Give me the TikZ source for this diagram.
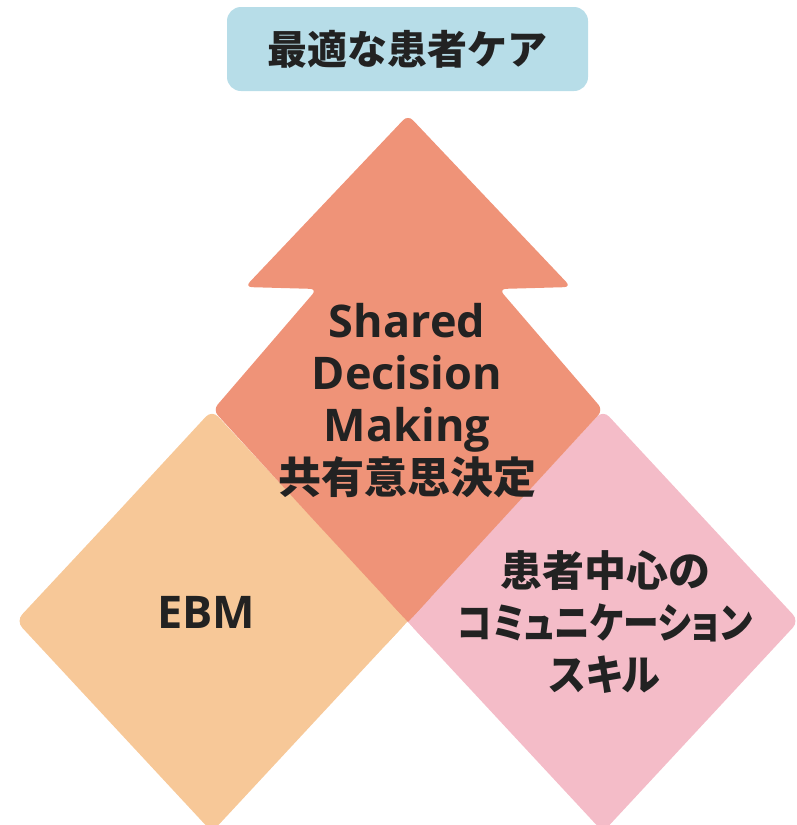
\documentclass[tikz,border=0pt]{standalone}
\usepackage{graphicx}
\usepackage{fontspec}
\setmainfont{Open Sans}
\newfontfamily\jp{Noto Sans CJK JP}
\newfontfamily\jpp[RawFeature=+palt]{Noto Sans CJK JP}
\definecolor{boxblue}{HTML}{B7DDE8}
\definecolor{salmon}{HTML}{EF9378}
\definecolor{peach}{HTML}{F7C898}
\definecolor{rosy}{HTML}{F4BCC8}
\definecolor{ink}{HTML}{222222}
\tikzset{
  titlebox/.style={fill=boxblue, rounded corners=14pt, minimum width=361pt, minimum height=84pt, inner sep=0pt, text=ink},
  label/.style={align=center, text=ink, inner sep=0pt},
}
\begin{document}
\begin{tikzpicture}[x=1pt,y=-1pt]
\useasboundingbox (0,0) rectangle (796,825);
\begin{scope}
\clip (0,0) rectangle (796,825);
% orange diamond (EBM)
\fill[peach, rounded corners=9pt] (114,516) -- (212,410) -- (408,621) -- (212,832) -- (16,621) -- cycle;
\fill[peach] (408,621) -- (386,597.3) -- (386,644.7) -- cycle;
% pink diamond
\fill[rosy, rounded corners=9pt] (505,516) -- (603,410) -- (799,621) -- (603,832) -- (407,621) -- cycle;
\fill[rosy] (407,621) -- (429,597.3) -- (429,644.7) -- cycle;
% salmon arrow
\fill[salmon, rounded corners=7pt] (310,516) -- (213,410) -- (317,289) -- (245,287) -- (408,115) -- (571,287) -- (499,289) -- (603,410) -- (408,622) -- cycle;
\fill[salmon] (408,622) -- (386,598.1) -- (430,598.1) -- cycle;
\end{scope}
\node[titlebox, font=\jp\bfseries\fontsize{40}{48}\selectfont] (title) at (407.5,49) {最適な患者ケア};
\node[label, font=\bfseries\fontsize{45}{52}\selectfont] (sdm) at (407,401) {Shared\\Decision\\Making\\{\jp\fontsize{43}{52}\selectfont 共有意思決定}};
\node[label, font=\bfseries\fontsize{45}{52}\selectfont] (ebm) at (206,612) {EBM};
\node[label, font=\jp\bfseries\fontsize{42}{52}\selectfont] (comm) at (605,622) {患者中心の\\\scalebox{0.85}[1]{\jpp コミュニケーション}\\\scalebox{0.93}[1]{\jpp スキル}};
\end{tikzpicture}
\end{document}
